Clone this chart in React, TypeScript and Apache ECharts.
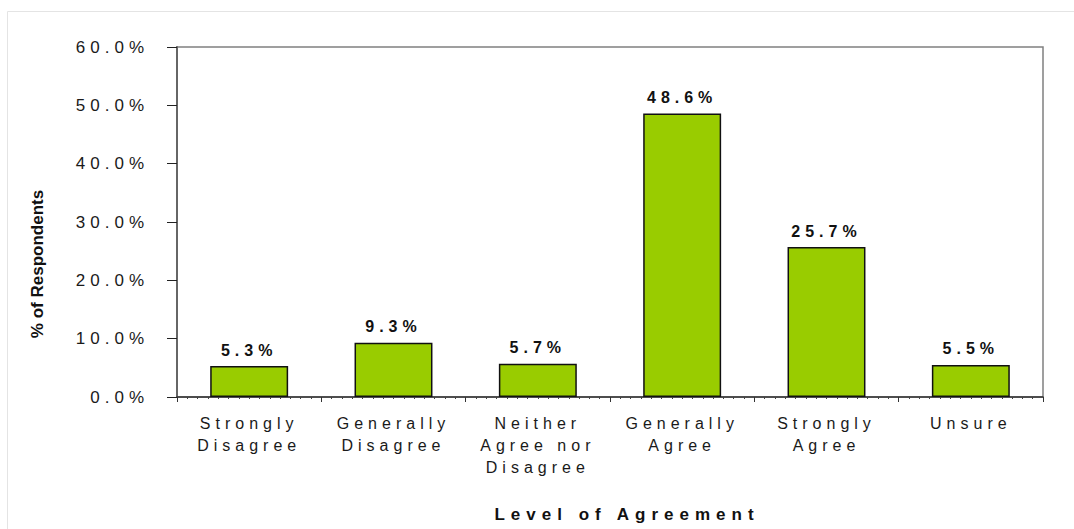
import React, { useEffect, useRef } from "react";
import * as echarts from "echarts";

const categories = [
  "Strongly\nDisagree",
  "Generally\nDisagree",
  "Neither\nAgree nor\nDisagree",
  "Generally\nAgree",
  "Strongly\nAgree",
  "Unsure",
];
const values = [5.3, 9.3, 5.7, 48.6, 25.7, 5.5];
const yTicks = { min: 0, max: 60, interval: 10 };
const Y_TITLE = "% of Respondents";
const X_TITLE = "Level of Agreement";

const FONT = "'Liberation Sans', Arial, Helvetica, sans-serif";

export default function App() {
  const ref = useRef<HTMLDivElement>(null);

  useEffect(() => {
    const el = ref.current!;
    const chart = echarts.init(el, undefined, { renderer: "svg" });
    chart.setOption({
      animation: false,
      backgroundColor: "#ffffff",
      grid: {
        left: 177,
        right: 31,
        top: 47,
        bottom: 132,
        show: true,
        borderColor: "#808080",
        borderWidth: 1.5,
        containLabel: false,
      },
      graphic: [
        {
          type: "rect",
          shape: { x: 7.5, y: 11.5, width: 1090, height: 540 },
          style: { fill: "none", stroke: "#e4e4e4", lineWidth: 1 },
          silent: true,
          z: -10,
        },
        {
          type: "text",
          x: 37,
          y: 264,
          rotation: Math.PI / 2,
          style: {
            text: Y_TITLE,
            font: `bold 17px ${FONT}`,
            fill: "#111111",
            textAlign: "center",
            textVerticalAlign: "middle",
          },
        },
        {
          type: "text",
          x: 627,
          y: 514,
          style: {
            text: X_TITLE,
            font: `bold 17px ${FONT}`,
            fill: "#111111",
            textAlign: "center",
            textVerticalAlign: "middle",
          },
        },
      ],
      xAxis: [
        {
          type: "category",
          data: categories,
          position: "bottom",
          axisLine: { show: true, lineStyle: { color: "#333333", width: 1.5 } },
          axisTick: { show: true, length: 5, lineStyle: { color: "#333333" } },
          axisLabel: {
            color: "#1a1a1a",
            fontFamily: FONT,
            fontSize: 16,
            lineHeight: 22,
            margin: 15,
            interval: 0,
          },
          splitLine: { show: false },
        },
        {
          type: "value",
          position: "bottom",
          min: 0,
          max: 6,
          interval: 1,
          axisLine: { show: false },
          axisTick: { show: false },
          axisLabel: { show: false },
          splitLine: { show: false },
          minorTick: { show: true, splitNumber: 14, length: 2, lineStyle: { color: "#444444" } },
          minorSplitLine: { show: false },
        },
      ],
      yAxis: {
        type: "value",
        min: yTicks.min,
        max: yTicks.max,
        interval: yTicks.interval,
        axisLine: { show: true, lineStyle: { color: "#666666", width: 2 } },
        axisTick: { show: true, length: 10, lineStyle: { color: "#222222" } },
        axisLabel: {
          color: "#1a1a1a",
          fontFamily: FONT,
          fontSize: 17,
          margin: 28,
          formatter: (v: number) => `${v.toFixed(1)}%`,
        },
        splitLine: { show: false },
      },
      series: [
        {
          type: "bar",
          xAxisIndex: 0,
          data: values,
          barWidth: "54%",
          itemStyle: { color: "#99cc00", borderColor: "#111111", borderWidth: 1.5 },
          label: {
            show: true,
            position: "top",
            distance: 8,
            color: "#111111",
            fontFamily: FONT,
            fontSize: 16,
            fontWeight: "bold",
            formatter: (p: any) => `${Number(p.value).toFixed(1)}%`,
          },
        },
      ],
    });

    const applySpacing = () => {
      el.querySelectorAll("text").forEach((t) => {
        const s = (t.textContent || "").trim();
        let ls = "5px";
        if (s === Y_TITLE) ls = "0px";
        else if (s === X_TITLE) ls = "6px";
        (t as SVGTextElement).style.letterSpacing = ls;
      });
    };
    applySpacing();
    chart.on("finished", applySpacing);

    return () => {
      chart.dispose();
    };
  }, []);

  return (
    <div
      ref={ref}
      style={{ position: "fixed", left: 0, top: 0, width: 1074, height: 529 }}
    />
  );
}
